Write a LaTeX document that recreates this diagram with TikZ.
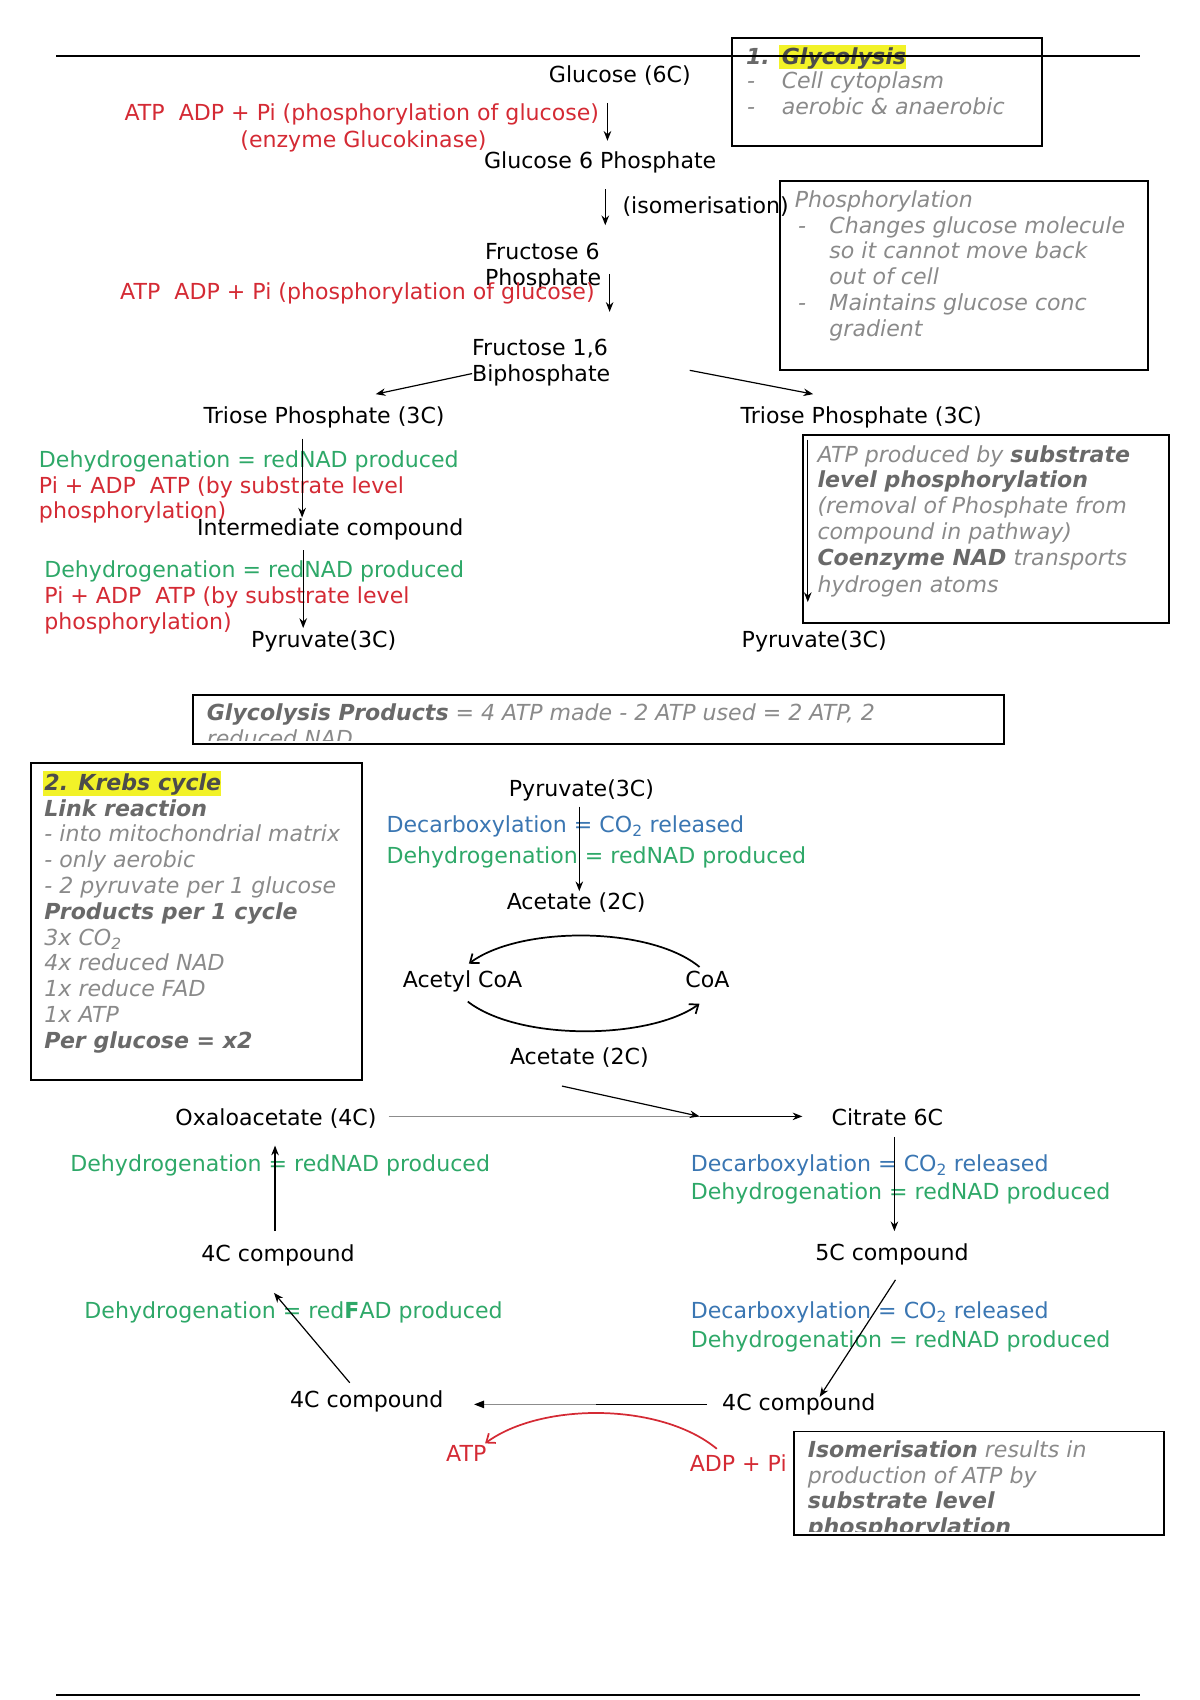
\documentclass[tikz,border=0pt]{standalone}
\usepackage{fontspec}
\setmainfont{DejaVu Sans}[BoldFont={DejaVu Sans Bold},ItalicFont={DejaVu Sans Oblique},BoldItalicFont={DejaVu Sans Bold Oblique}]
\usetikzlibrary{arrows.meta}
\definecolor{rd}{RGB}{212,42,52}
\definecolor{gn}{RGB}{46,168,104}
\definecolor{bl}{RGB}{58,118,178}
\definecolor{gy}{RGB}{138,138,138}
\definecolor{dgy}{RGB}{105,105,105}
\definecolor{hl}{RGB}{242,242,40}
\newcommand{\bk}[1]{{\bfseries\color{dgy}#1}}
\begin{document}
\begin{tikzpicture}[x=1pt,y=-1pt,
  every node/.style={inner sep=0pt,outer sep=0pt,anchor=base west,font=\fontsize{20.4}{24}\selectfont},
  txk/.style={text=black},
  txr/.style={text=rd},
  txg/.style={text=gn},
  txb/.style={text=bl},
  txi/.style={text=gy,font=\fontsize{20.4}{24}\selectfont\itshape},
  txh/.style={text=dgy,font=\fontsize{20.4}{24}\selectfont\bfseries\itshape},
  gbox/.style={draw=black,line width=1.8pt},
  arr/.style={-{Stealth[length=9pt,width=7pt]},line width=1.1pt},
  carr/.style={-{Straight Barb[length=7pt,width=11pt]},line width=1.6pt},
]
\useasboundingbox (0,0) rectangle (1108,1570);

% ---------- Box 1 ----------
\fill[hl] (719,42) rectangle (837,64);
\node[txh] (g1n) at (689,60) {1.};
\node[txh,text=black!70] (g1t) at (722,60) {Glycolysis};
\node[txi] (g1d1) at (690,82) {-};
\node[txi] (g1a) at (722,82) {Cell cytoplasm};
\node[txi] (g1d2) at (690,106) {-};
\node[txi] (g1b) at (722,106) {aerobic \& anaerobic};
\draw[gbox] (676,35) rectangle (962,135);
\coordinate (TL) at (52,52); \coordinate (TR) at (1053,52);
\draw[line width=1.8pt] (TL) -- (TR);

% ---------- Box 2 ----------
\draw[gbox] (720,167) rectangle (1060,342);
\node[txi] (b2a) at (734,192) {Phosphorylation};
\node[txi] (b2d1) at (737,216) {-};
\node[txi] (b2b) at (766,216) {Changes glucose molecule};
\node[txi] (b2c) at (766,239) {so it cannot move back};
\node[txi] (b2e) at (766,263) {out of cell};
\node[txi] (b2d2) at (737,287) {-};
\node[txi] (b2f) at (766,287) {Maintains glucose conc};
\node[txi] (b2g) at (766,311) {gradient};

% ---------- Box 3 ----------
\draw[gbox] (742,402) rectangle (1080,575);
\node[txi] (b3a) at (755,427) {ATP produced by \bk{substrate}};
\node[txi] (b3b) at (755,450) {\bk{level phosphorylation}};
\node[txi] (b3c) at (755,474) {(removal of Phosphate from};
\node[txi] (b3d) at (755,498) {compound in pathway)};
\node[txi] (b3e) at (755,522) {\bk{Coenzyme NAD} transports};
\node[txi] (b3f) at (755,547) {hydrogen atoms};

% ---------- Box 4 ----------
\begin{scope}
\clip (178,642) rectangle (927,684);
\node[txi] (b4a) at (191,665) {\bk{Glycolysis Products} = 4 ATP made - 2 ATP used = 2 ATP, 2};
\node[txi] (b4b) at (191,689) {reduced NAD};
\end{scope}
\draw[gbox] (178,642) rectangle (927,687);

% ---------- Box 5 ----------
\fill[hl] (40,712) rectangle (204,735);
\node[txh,text=black!70] (k1) at (41,730) {2. Krebs cycle};
\node[txh] (k2) at (41,754) {Link reaction};
\node[txi] (k3) at (41,777) {- into mitochondrial matrix};
\node[txi] (k4) at (41,801) {- only aerobic};
\node[txi] (k5) at (41,825) {- 2 pyruvate per 1 glucose};
\node[txh] (k6) at (41,849) {Products per 1 cycle};
\node[txi] (k7) at (41,873) {3x CO\textsubscript{2}};
\node[txi] (k8) at (41,896) {4x reduced NAD};
\node[txi] (k9) at (41,920) {1x reduce FAD};
\node[txi] (k10) at (41,944) {1x ATP};
\node[txh] (k11) at (41,968) {Per glucose = x2};
\draw[gbox] (29,705) rectangle (334,997);

% ---------- Box 6 ----------
\begin{scope}
\clip (733,1322) rectangle (1075,1414);
\node[txi] (b6a) at (746,1346) {\bk{Isomerisation} results in};
\node[txi] (b6b) at (746,1370) {production of ATP by};
\node[txi] (b6c) at (746,1393) {\bk{substrate level}};
\node[txi] (b6d) at (746,1417) {\bk{phosphorylation}};
\end{scope}
\draw[gbox] (733,1322) rectangle (1075,1418);

% ---------- Glycolysis chain ----------
\node[txk] (glc) at (507,76) {Glucose (6C)};
\node[txr] (r1) at (115,111) {ATP\ \ ADP + Pi (phosphorylation of glucose)};
\node[txr] (r2) at (222,136) {(enzyme Glucokinase)};
\node[txk] (g6p) at (447,156) {Glucose 6 Phosphate};
\node[txk] (iso) at (575,197) {(isomerisation)};
\node[txk] (f6a) at (448,240) {Fructose 6};
\node[txk] (f6b) at (448,264) {Phosphate};
\node[txr] (r3) at (111,277) {ATP\ \ ADP + Pi (phosphorylation of glucose)};
\node[txk] (f16a) at (436,328) {Fructose 1,6};
\node[txk] (f16b) at (436,352) {Biphosphate};
\node[txk] (tpl) at (188,391) {Triose Phosphate (3C)};
\node[txk] (tpr) at (684,391) {Triose Phosphate (3C)};
\node[txg] (gl1) at (36,432) {Dehydrogenation = redNAD produced};
\node[txr] (rl1) at (36,456) {Pi + ADP\ \ ATP (by substrate level};
\node[txr] (rl2) at (36,479) {phosphorylation)};
\node[txk] (int) at (182,495) {Intermediate compound};
\node[txg] (gl2) at (41,533) {Dehydrogenation = redNAD produced};
\node[txr] (rl3) at (41,557) {Pi + ADP\ \ ATP (by substrate level};
\node[txr] (rl4) at (41,581) {phosphorylation)};
\node[txk] (pyl) at (232,598) {Pyruvate(3C)};
\node[txk] (pyr) at (685,598) {Pyruvate(3C)};

\coordinate (a1s) at (561,95);  \coordinate (a1e) at (561,130);
\coordinate (a2s) at (559,175); \coordinate (a2e) at (559,208);
\coordinate (a3s) at (563,253); \coordinate (a3e) at (563,288);
\coordinate (a4s) at (436,345); \coordinate (a4e) at (347,364);
\coordinate (a5s) at (637,342); \coordinate (a5e) at (751,364);
\coordinate (a6s) at (279,405); \coordinate (a6e) at (279,478);
\coordinate (a7s) at (280,508); \coordinate (a7e) at (280,580);
\coordinate (a8s) at (746,406); \coordinate (a8e) at (746,556);
\draw[arr] (a1s) -- (a1e);
\draw[arr] (a2s) -- (a2e);
\draw[arr] (a3s) -- (a3e);
\draw[arr] (a4s) -- (a4e);
\draw[arr] (a5s) -- (a5e);
\draw[arr] (a6s) -- (a6e);
\draw[arr] (a7s) -- (a7e);
\draw[arr] (a8s) -- (a8e);

% ---------- Link reaction ----------
\node[txk] (pyk) at (470,736) {Pyruvate(3C)};
\node[txb] (bk1) at (357,769) {Decarboxylation = CO\textsubscript{2} released};
\node[txg] (gk1) at (357,797) {Dehydrogenation = redNAD produced};
\node[txk] (ac1) at (468,840) {Acetate (2C)};
\node[txk] (acc) at (372,912) {Acetyl CoA};
\node[txk] (coa) at (633,912) {CoA};
\node[txk] (ac2) at (471,983) {Acetate (2C)};
\coordinate (a9s) at (535,745); \coordinate (a9e) at (535,823);
\draw[arr] (a9s) -- (a9e);
\coordinate (c1s) at (646,893); \coordinate (c1e) at (433,890);
\coordinate (c2s) at (432,925); \coordinate (c2e) at (646,927);
\draw[carr] (c1s) .. controls (600,855) and (480,855) .. (c1e);
\draw[carr] (c2s) .. controls (480,962) and (600,960) .. (c2e);

% ---------- Krebs cycle ----------
\node[txk] (oxa) at (162,1039) {Oxaloacetate (4C)};
\node[txk] (cit) at (768,1039) {Citrate 6C};
\node[txg] (gk2) at (65,1082) {Dehydrogenation = redNAD produced};
\node[txb] (bk2) at (638,1082) {Decarboxylation = CO\textsubscript{2} released};
\node[txg] (gk3) at (638,1108) {Dehydrogenation = redNAD produced};
\node[txk] (c4a) at (186,1165) {4C compound};
\node[txk] (c5) at (753,1164) {5C compound};
\node[txg] (gk4) at (78,1218) {Dehydrogenation = red\textbf{F}AD produced};
\node[txb] (bk3) at (638,1218) {Decarboxylation = CO\textsubscript{2} released};
\node[txg] (gk5) at (638,1244) {Dehydrogenation = redNAD produced};
\node[txk] (c4b) at (268,1300) {4C compound};
\node[txk] (c4c) at (667,1303) {4C compound};
\node[txr] (atp) at (412,1350) {ATP};
\node[txr] (adp) at (637,1359) {ADP + Pi};

\coordinate (a10s) at (519,1003); \coordinate (mid) at (646,1031);
\coordinate (a11s) at (359,1031); \coordinate (a11e) at (741,1031);
\draw[line width=1.1pt,black!45] (a11s) -- (mid);
\draw[arr] (mid) -- (a11e);
\draw[arr] (a10s) -- (mid);
\coordinate (a12s) at (826,1050); \coordinate (a12e) at (826,1137);
\draw[arr] (a12s) -- (a12e);
\coordinate (a13s) at (827,1182); \coordinate (a13e) at (757,1290);
\draw[arr] (a13s) -- (a13e);
\coordinate (a14s) at (653,1297); \coordinate (a14m) at (550,1297); \coordinate (a14e) at (438,1297);
\draw[line width=1.1pt] (a14s) -- (a14m);
\draw[arr,black!45] (a14m) -- (a14e);
\fill[black] (a14e) -- ++(9,-3.5) -- ++(0,7) -- cycle;
\coordinate (a15s) at (323,1277); \coordinate (a15e) at (253,1194);
\draw[arr] (a15s) -- (a15e);
\coordinate (a16s) at (254,1137); \coordinate (a16e) at (254,1058);
\draw[arr] (a16s) -- (a16e);
\coordinate (rcs) at (662,1338); \coordinate (rce) at (448,1333);
\draw[carr,rd] (rcs) .. controls (610,1295) and (500,1295) .. (rce);

% ---------- bottom line ----------
\coordinate (BL) at (52,1565); \coordinate (BR) at (1053,1565);
\draw[line width=1.8pt] (BL) -- (BR);
\end{tikzpicture}
\end{document}
